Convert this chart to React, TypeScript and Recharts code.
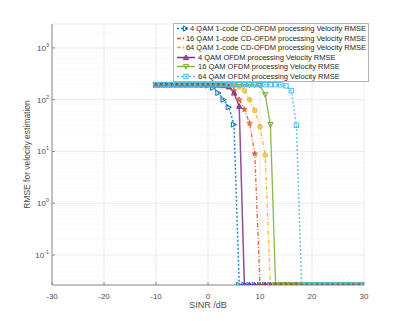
import React from "react";
import {
  LineChart,
  Line,
  XAxis,
  YAxis,
  CartesianGrid,
  ReferenceLine,
} from "recharts";

const sinr = [
  -10, -9, -8, -7, -6, -5, -4, -3, -2, -1, 0, 1, 2, 3, 4, 5, 6, 7, 8, 9, 10,
  11, 12, 13, 14, 15, 16, 17, 18, 19, 20, 21, 22, 23, 24, 25, 26, 27, 28, 29, 30,
];

// 4 QAM 1-code CD-OFDM
const qam4Cd = [
  195, 195, 195, 195, 195, 195, 195, 195, 194, 192, 188, 170, 135, 100, 72, 33,
  0.0263, 0.0263, 0.0263, 0.0263, 0.0263, 0.0263, 0.0263, 0.0263, 0.0263, 0.0263,
  0.0263, 0.0263, 0.0263, 0.0263, 0.0263, 0.0263, 0.0263, 0.0263, 0.0263, 0.0263,
  0.0263, 0.0263, 0.0263, 0.0263, 0.0263,
];
// 16 QAM 1-code CD-OFDM
const qam16Cd = [
  195, 195, 195, 195, 195, 195, 195, 195, 195, 195, 195, 194, 192, 188, 178, 150,
  100, 65, 35, 9, 0.0263, 0.0263, 0.0263, 0.0263, 0.0263, 0.0263, 0.0263, 0.0263,
  0.0263, 0.0263, 0.0263, 0.0263, 0.0263, 0.0263, 0.0263, 0.0263, 0.0263, 0.0263,
  0.0263, 0.0263, 0.0263,
];
// 64 QAM 1-code CD-OFDM
const qam64Cd = [
  195, 195, 195, 195, 195, 195, 195, 195, 195, 195, 195, 195, 195, 194, 192, 188,
  178, 150, 100, 62, 30, 8.5, 0.0263, 0.0263, 0.0263, 0.0263, 0.0263, 0.0263,
  0.0263, 0.0263, 0.0263, 0.0263, 0.0263, 0.0263, 0.0263, 0.0263, 0.0263, 0.0263,
  0.0263, 0.0263, 0.0263,
];
// 4 QAM OFDM
const qam4Ofdm = [
  195, 195, 195, 195, 195, 195, 195, 195, 195, 195, 195, 194, 192, 188, 178, 135,
  75, 0.0263, 0.0263, 0.0263, 0.0263, 0.0263, 0.0263, 0.0263, 0.0263, 0.0263,
  0.0263, 0.0263, 0.0263, 0.0263, 0.0263, 0.0263, 0.0263, 0.0263, 0.0263, 0.0263,
  0.0263, 0.0263, 0.0263, 0.0263, 0.0263,
];
// 16 QAM OFDM
const qam16Ofdm = [
  195, 195, 195, 195, 195, 195, 195, 195, 195, 195, 195, 195, 195, 195, 195, 195,
  195, 195, 194, 193, 188, 125, 33, 0.0263, 0.0263, 0.0263, 0.0263, 0.0263, 0.0263,
  0.0263, 0.0263, 0.0263, 0.0263, 0.0263, 0.0263, 0.0263, 0.0263, 0.0263, 0.0263,
  0.0263, 0.0263,
];
// 64 QAM OFDM
const qam64Ofdm = [
  195, 195, 195, 195, 195, 195, 195, 195, 195, 195, 195, 195, 195, 195, 195, 195,
  195, 195, 195, 195, 195, 195, 195, 195, 194, 185, 150, 32, 0.0263, 0.0263,
  0.0263, 0.0263, 0.0263, 0.0263, 0.0263, 0.0263, 0.0263, 0.0263, 0.0263, 0.0263,
  0.0263,
];

const seriesNames = [
  "4 QAM 1-code CD-OFDM processing Velocity RMSE",
  "16 QAM 1-code CD-OFDM processing Velocity RMSE",
  "64 QAM 1-code CD-OFDM processing Velocity RMSE",
  "4 QAM OFDM processing Velocity RMSE",
  "16 QAM OFDM processing Velocity RMSE",
  "64 QAM OFDM processing Velocity RMSE",
];

const xTicks = [-30, -20, -10, 0, 10, 20, 30];
const yTicks = [0.1, 1, 10, 100, 1000];
const yExps = ["-1", "0", "1", "2", "3"];
const yMinor = [
  0.03, 0.04, 0.05, 0.06, 0.07, 0.08, 0.09, 0.2, 0.3, 0.4, 0.5, 0.6, 0.7, 0.8,
  0.9, 2, 3, 4, 5, 6, 7, 8, 9, 20, 30, 40, 50, 60, 70, 80, 90, 200, 300, 400, 500,
  600, 700, 800, 900, 2000,
];

const data = sinr.map((x, i) => ({
  x,
  s0: qam4Cd[i],
  s1: qam16Cd[i],
  s2: qam64Cd[i],
  s3: qam4Ofdm[i],
  s4: qam16Ofdm[i],
  s5: qam64Ofdm[i],
}));

const PLOT_LEFT = 52;
const PLOT_BOTTOM = 285;
const FONT = "Liberation Sans, Arial, Helvetica, sans-serif";

type Shape = "right" | "star" | "circle" | "up" | "down" | "square";

const styles: { key: string; color: string; dash?: string; shape: Shape; width: number }[] = [
  { key: "s0", color: "#0072BD", dash: "2 2", shape: "right", width: 1.5 },
  { key: "s1", color: "#D95319", dash: "4 2 1 2", shape: "star", width: 1.3 },
  { key: "s2", color: "#EDB120", dash: "4 2 1 2", shape: "circle", width: 1.3 },
  { key: "s3", color: "#7E2F8E", shape: "up", width: 1.5 },
  { key: "s4", color: "#77AC30", shape: "down", width: 1.3 },
  { key: "s5", color: "#4DBEEE", dash: "2 2", shape: "square", width: 1.5 },
];

function Marker({ cx, cy, shape, color }: { cx: number; cy: number; shape: Shape; color: string }) {
  const r = 2.6;
  if (shape === "right")
    return (
      <polygon
        points={`${cx - r},${cy - r} ${cx + r},${cy} ${cx - r},${cy + r}`}
        fill="none"
        stroke={color}
        strokeWidth={1}
      />
    );
  if (shape === "up")
    return (
      <polygon
        points={`${cx - r},${cy + r * 0.8} ${cx + r},${cy + r * 0.8} ${cx},${cy - r}`}
        fill={color}
        fillOpacity={0.6}
        stroke={color}
        strokeWidth={1}
      />
    );
  if (shape === "down")
    return (
      <polygon
        points={`${cx - r},${cy - r * 0.8} ${cx + r},${cy - r * 0.8} ${cx},${cy + r}`}
        fill="none"
        stroke={color}
        strokeWidth={1}
      />
    );
  if (shape === "square")
    return (
      <rect x={cx - 2.2} y={cy - 2.2} width={4.4} height={4.4} fill="none" stroke={color} strokeWidth={1} />
    );
  if (shape === "circle")
    return <circle cx={cx} cy={cy} r={2.4} fill={color} fillOpacity={0.6} stroke={color} strokeWidth={0.8} />;
  // star
  const pts: string[] = [];
  for (let k = 0; k < 10; k++) {
    const a = -Math.PI / 2 + (k * Math.PI) / 5;
    const rr = k % 2 === 0 ? 3 : 1.3;
    pts.push(`${cx + rr * Math.cos(a)},${cy + rr * Math.sin(a)}`);
  }
  return <polygon points={pts.join(" ")} fill={color} fillOpacity={0.7} stroke={color} strokeWidth={0.6} />;
}

const XTick = (props: any) => {
  const { x, y, payload } = props;
  return (
    <g>
      <line x1={x} x2={x} y1={PLOT_BOTTOM} y2={PLOT_BOTTOM - 3} stroke="#8c8c8c" />
      <text x={x} y={y + 6} textAnchor="middle" fontSize={8} fill="#4d4d4d" fontFamily={FONT}>
        {payload.value}
      </text>
    </g>
  );
};

const YTick = (props: any) => {
  const { y, payload, index } = props;
  return (
    <g>
      <line x1={PLOT_LEFT} x2={PLOT_LEFT + 3} y1={y} y2={y} stroke="#8c8c8c" />
      <text x={PLOT_LEFT - 3} y={y + 3} textAnchor="end" fontSize={8} fill="#4d4d4d" fontFamily={FONT}>
        10
        <tspan dy={-4} fontSize={5.5}>
          {yExps[index] ?? String(Math.round(Math.log10(payload.value)))}
        </tspan>
      </text>
    </g>
  );
};

const LegendBox = () => (
  <div
    style={{
      position: "absolute",
      left: 173,
      top: 23,
      width: 190,
      border: "1px solid #b3b3b3",
      background: "#fff",
      padding: "0px 2px 0px 2px",
      fontFamily: FONT,
      fontSize: 7.5,
      color: "#262626",
      lineHeight: "9.5px",
    }}
  >
    {styles.map((s, i) => (
      <div key={s.key} style={{ display: "flex", alignItems: "center", whiteSpace: "nowrap", height: 9.5 }}>
        <svg width={20} height={9} style={{ marginRight: 2 }}>
          <line x1={1} x2={19} y1={4.5} y2={4.5} stroke={s.color} strokeWidth={s.width} strokeDasharray={s.dash} />
          <Marker cx={10} cy={4.5} shape={s.shape} color={s.color} />
        </svg>
        <span>{seriesNames[i]}</span>
      </div>
    ))}
  </div>
);

export default function App() {
  return (
    <div style={{ position: "absolute", left: 0, top: 0, width: 403, height: 321, background: "#fff" }}>
      <LineChart
        width={403}
        height={321}
        data={data}
        margin={{ top: 24, right: 39, left: 0, bottom: 0 }}
      >
        <CartesianGrid stroke="#e6e6e6" strokeWidth={0.8} />
        {yMinor.map((v) => (
          <ReferenceLine key={v} y={v} stroke="#efefef" strokeWidth={0.6} strokeDasharray="1 1" />
        ))}
        <XAxis
          dataKey="x"
          type="number"
          domain={[-30, 30]}
          ticks={xTicks}
          allowDataOverflow
          height={36}
          stroke="#8c8c8c"
          tickLine={false}
          tick={<XTick />}
          label={{
            value: "SINR /dB",
            position: "insideTop",
            offset: 17,
            fontSize: 9,
            fill: "#4d4d4d",
            fontFamily: FONT,
          }}
        />
        <XAxis
          xAxisId="top"
          orientation="top"
          type="number"
          domain={[-30, 30]}
          ticks={xTicks}
          height={0}
          stroke="#8c8c8c"
          tick={false}
          tickLine={false}
        />
        <YAxis
          type="number"
          scale="log"
          domain={[0.0263, 2900]}
          ticks={yTicks}
          allowDataOverflow
          width={PLOT_LEFT}
          stroke="#8c8c8c"
          tickLine={false}
          tick={<YTick />}
          label={{
            value: "RMSE for velocity estimation",
            angle: -90,
            position: "insideLeft",
            dx: 22,
            dy: 0,
            fontSize: 8.5,
            fill: "#4d4d4d",
            fontFamily: FONT,
            style: { textAnchor: "middle" },
          }}
        />
        <YAxis
          yAxisId="right"
          orientation="right"
          type="number"
          scale="log"
          domain={[0.0263, 2900]}
          ticks={yTicks}
          width={0}
          stroke="#8c8c8c"
          tick={false}
          tickLine={false}
        />
        {styles.map((s, i) => (
          <Line
            key={s.key}
            dataKey={s.key}
            name={seriesNames[i]}
            stroke={s.color}
            strokeWidth={s.width}
            strokeDasharray={s.dash}
            strokeOpacity={0.85}
            isAnimationActive={false}
            dot={(p: any) => <Marker key={`${s.key}-${p.index}`} cx={p.cx} cy={p.cy} shape={s.shape} color={s.color} />}
            activeDot={false}
          />
        ))}
      </LineChart>
      <LegendBox />
    </div>
  );
}
